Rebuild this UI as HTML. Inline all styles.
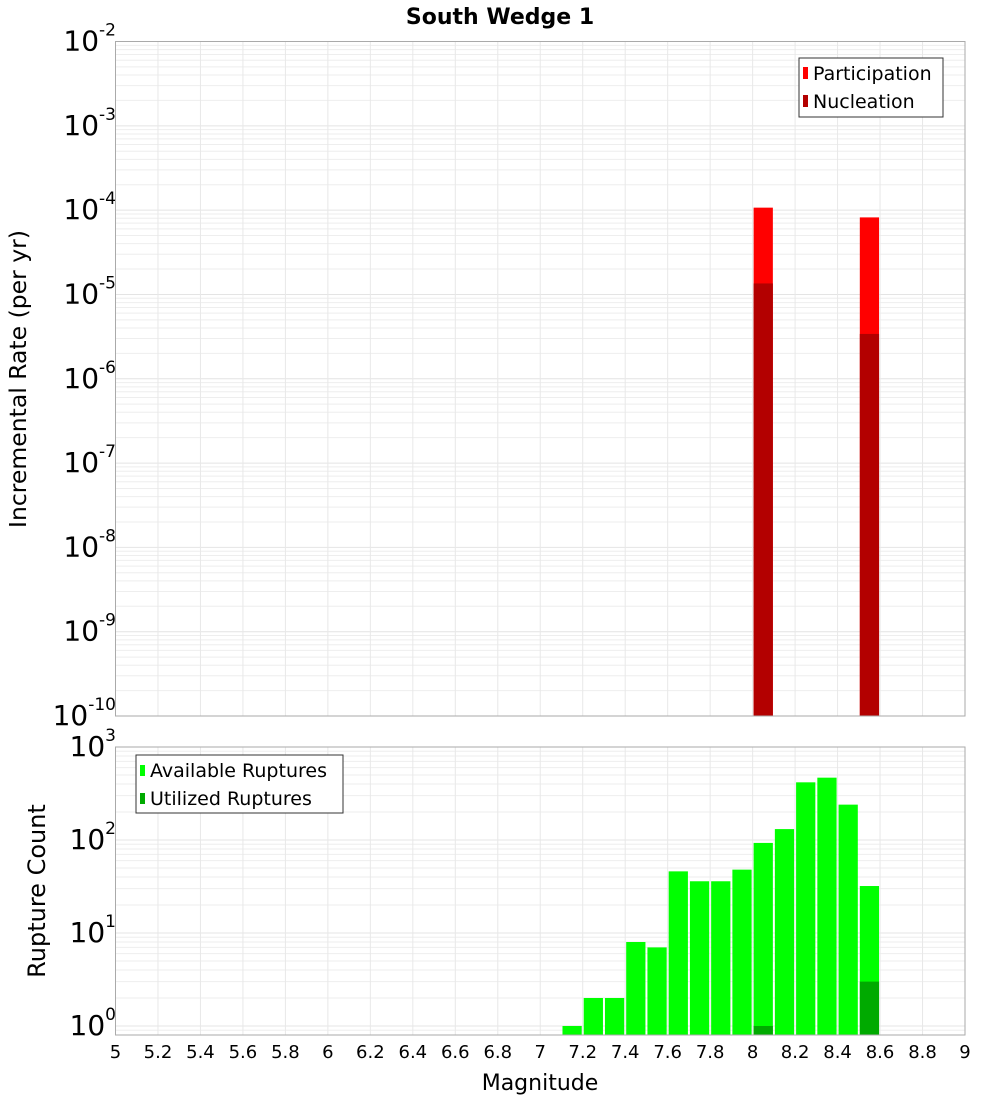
<!DOCTYPE html>
<html><head><meta charset="utf-8"><style>
body{margin:0;background:#fff;font-family:"DejaVu Sans","Liberation Sans",sans-serif}
</style></head><body>
<svg id="chart" width="1000" height="1100" xmlns="http://www.w3.org/2000/svg" font-family="DejaVu Sans, Liberation Sans, sans-serif">
<text x="500" y="24" text-anchor="middle" font-size="22" font-weight="bold">South Wedge 1</text>
<g id="top"></g><g id="bot"></g>
<text transform="translate(26,379) rotate(-90)" text-anchor="middle" font-size="23.5">Incremental Rate (per yr)</text>
<text transform="translate(45,891) rotate(-90)" text-anchor="middle" font-size="24">Rupture Count</text>
<text x="540" y="1090" text-anchor="middle" font-size="22">Magnitude</text>
<g>
<rect x="799" y="58" width="144" height="59" fill="#fff" stroke="#333"/>
<rect x="803" y="67" width="5" height="12" fill="#ff0000"/><text x="813" y="80" font-size="19">Participation</text>
<rect x="803" y="95" width="5" height="12" fill="#b30000"/><text x="813" y="108" font-size="19">Nucleation</text>
</g>
<g>
<rect x="136" y="755" width="207" height="58" fill="#fff" stroke="#333"/>
<rect x="140" y="765" width="5" height="11" fill="#00ff00"/><text x="150" y="777" font-size="19">Available Ruptures</text>
<rect x="140" y="793" width="5" height="11" fill="#00aa00"/><text x="150" y="805" font-size="19">Utilized Ruptures</text>
</g>
</svg>
<script>
const binStarts=[8.0,8.5];
const participation=[1.07e-4,8.2e-5];
const nucleation=[1.35e-5,3.4e-6];
const countBins=[7.1,7.2,7.3,7.4,7.5,7.6,7.7,7.8,7.9,8.0,8.1,8.2,8.3,8.4,8.5];
const available=[1,2,2,8,7,46,36,36,48,93,131,417,468,240,32];
const utilized=[0,0,0,0,0,0,0,0,0,1,0,0,0,0,3];
const xTicks=["5","5.2","5.4","5.6","5.8","6","6.2","6.4","6.6","6.8","7","7.2","7.4","7.6","7.8","8","8.2","8.4","8.6","8.8","9"];
const topExp=[-2,-3,-4,-5,-6,-7,-8,-9,-10];
const botExp=[3,2,1,0];
const NS="http://www.w3.org/2000/svg";
const L=115.5,R=965;
const X=m=>L+(m-5)/4*(R-L);
const yTop=v=>41.5+(-2-Math.log10(v))/8*(716-41.5);
const yBot=v=>747+(3-Math.log10(v))/(3-Math.log10(0.8))*(1035-747);
function el(p,t,a){const e=document.createElementNS(NS,t);for(const k in a)e.setAttribute(k,a[k]);p.appendChild(e);return e;}
function frame(g,y0,y1,yf,lo,hi,name){
  const bg=el(g,'rect',{x:L,y:y0,width:R-L,height:y1-y0,fill:'#fff'});
  
  for(let e=lo;e<hi;e++)for(let k=1;k<10;k++){const v=k*Math.pow(10,e);const y=yf(v);if(y<y0-0.1||y>y1+0.1)continue;
    const l=el(g,'line',{x1:L,x2:R,y1:y,y2:y,stroke:k==1?'#e4e4e4':'#eeeeee','stroke-width':1});
    }
  for(let i=0;i<xTicks.length;i++){const x=X(+xTicks[i]);
    const l=el(g,'line',{x1:x,x2:x,y1:y0,y2:y1,stroke:'#e8e8e8','stroke-width':1});
    }
}
function border(g,y0,y1,name){const b=el(g,'rect',{x:L,y:y0,width:R-L,height:y1-y0,fill:'none',stroke:'#aaa','stroke-width':1});
  }
function ylab(g,e,y){const t=el(g,'text',{x:104,y:y+9,'text-anchor':'end','font-size':28});
  
  t.textContent='10';const s=el(t,'tspan',{dy:-15,'font-size':17});s.textContent=String(e);
  t.setAttribute('transform','translate(12,0)');}
const gt=document.getElementById('top'),gb=document.getElementById('bot');
frame(gt,41.5,716,yTop,-10,-1,'top');
binStarts.forEach((m,i)=>{
  const x0=X(m)+1,w=X(m+0.1)-X(m)-2;
  let y=yTop(participation[i]);
  let r=el(gt,'rect',{x:x0,y:y,width:w,height:716-y,fill:'#ff0000'});
  
  y=yTop(nucleation[i]);
  r=el(gt,'rect',{x:x0,y:y,width:w,height:716-y,fill:'#b30000'});
  
});
border(gt,41.5,716,'top');
topExp.forEach(e=>ylab(gt,e,yTop(Math.pow(10,e))));
frame(gb,747,1035,yBot,-1,3,'bottom');
countBins.forEach((m,i)=>{
  const x0=X(m)+1,w=X(m+0.1)-X(m)-2;
  let y=yBot(available[i]);
  let r=el(gb,'rect',{x:x0,y:y,width:w,height:1035-y,fill:'#00ff00'});
  
  if(utilized[i]>0){y=yBot(utilized[i]);
  r=el(gb,'rect',{x:x0,y:y,width:w,height:1035-y,fill:'#00aa00'});
  }
});
border(gb,747,1035,'bottom');
botExp.forEach(e=>ylab(gb,e,yBot(Math.pow(10,e))));
xTicks.forEach(s=>{const t=el(gb,'text',{x:X(+s),y:1058,'text-anchor':'middle','font-size':18});
  t.textContent=s;});
</script>
</body></html>
